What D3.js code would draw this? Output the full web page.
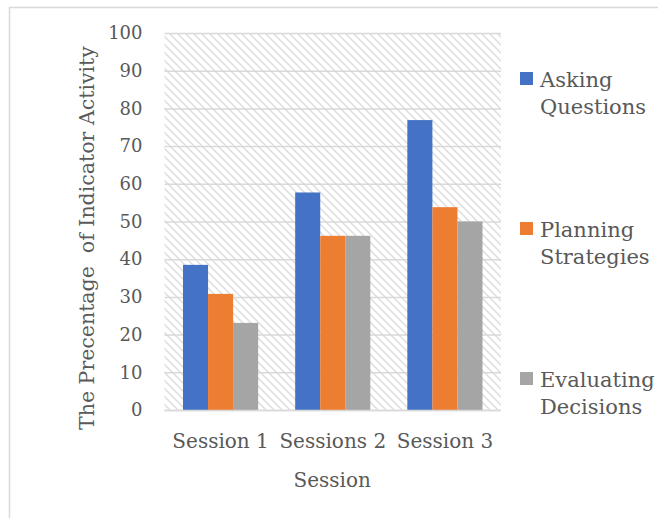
<!DOCTYPE html>
<html>
<head>
<meta charset="utf-8">
<script src="https://cdn.jsdelivr.net/npm/d3@7"></script>
<style>
  html, body { margin: 0; padding: 0; background: #fff; }
  svg { display: block; }
  text { font-family: "DejaVu Serif", "Liberation Serif", serif; fill: #595959; }
</style>
</head>
<body>
<svg id="chart" width="658" height="518"></svg>
<script>
// Chart data
const categories = ["Session 1", "Sessions 2", "Session 3"];
const seriesNames = ["Asking Questions", "Planning Strategies", "Evaluating Decisions"];
const askingQuestions = [38.5, 57.7, 76.9];
const planningStrategies = [30.8, 46.2, 53.8];
const evaluatingDecisions = [23.1, 46.2, 50.0];
const yTicks = [0, 10, 20, 30, 40, 50, 60, 70, 80, 90, 100];
const legendLines = [["Asking", "Questions"], ["Planning", "Strategies"], ["Evaluating", "Decisions"]];

const seriesValues = [askingQuestions, planningStrategies, evaluatingDecisions];
const colors = ["#4472C4", "#ED7D31", "#A5A5A5"];
const serif = "'DejaVu Serif', 'Liberation Serif', serif";

const svg = d3.select("#chart");

// outer chart frame
svg.append("rect")
  .attr("x", 9.5).attr("y", 7.5)
  .attr("width", 680).attr("height", 540)
  .attr("fill", "#fff")
  .attr("stroke", "#d9d9d9").attr("stroke-width", 1.5);

const plot = { left: 164.5, right: 501, top: 33, bottom: 410 };

// diagonal hatch fill for the plot area
const defs = svg.append("defs");
const pat = defs.append("pattern")
  .attr("id", "hatch")
  .attr("patternUnits", "userSpaceOnUse")
  .attr("width", 8).attr("height", 8);
pat.append("rect").attr("width", 8).attr("height", 8).attr("fill", "#fff");
pat.append("path")
  .attr("d", "M-2,-2 L10,10 M-2,6 L2,10 M6,-2 L10,2")
  .attr("stroke", "#dcdcdc").attr("stroke-width", 1.4);

svg.append("rect")
  .attr("x", plot.left).attr("y", plot.top)
  .attr("width", plot.right - plot.left).attr("height", plot.bottom - plot.top)
  .attr("fill", "url(#hatch)");

const x0 = d3.scaleBand()
  .domain(categories)
  .range([plot.left, plot.right])
  .paddingInner(0.33)
  .paddingOuter(0.165);

const x1 = d3.scaleBand()
  .domain(d3.range(seriesNames.length))
  .range([0, x0.bandwidth()]);

const y = d3.scaleLinear().domain([0, 100]).range([plot.bottom, plot.top]);

// gridlines
svg.append("g")
  .attr("transform", `translate(${plot.left},0)`)
  .call(d3.axisLeft(y).tickValues(yTicks).tickSize(-(plot.right - plot.left)).tickFormat(""))
  .call(g => g.select(".domain").remove())
  .call(g => g.selectAll(".tick line").attr("stroke", "#d9d9d9").attr("stroke-width", 1.5));

// bars
const groups = svg.append("g").selectAll("g")
  .data(categories)
  .join("g")
  .attr("transform", d => `translate(${x0(d)},0)`);

groups.selectAll("rect")
  .data((d, i) => seriesValues.map((vals, s) => ({ s, v: vals[i] })))
  .join("rect")
  .attr("x", d => x1(d.s))
  .attr("y", d => y(d.v))
  .attr("width", x1.bandwidth())
  .attr("height", d => y(0) - y(d.v))
  .attr("fill", d => colors[d.s]);

// y axis labels
svg.append("g")
  .attr("transform", `translate(${plot.left},0)`)
  .call(d3.axisLeft(y).tickValues(yTicks).tickSize(0).tickPadding(22))
  .call(g => g.select(".domain").remove())
  .call(g => g.selectAll("text")
    .style("font-family", serif)
    .style("font-size", "18px")
    .attr("fill", "#595959"));

// x axis
svg.append("g")
  .attr("transform", `translate(0,${plot.bottom})`)
  .call(d3.axisBottom(x0).tickSize(0).tickPadding(24))
  .call(g => g.select(".domain").attr("stroke", "#d9d9d9").attr("stroke-width", 1.5)
    .attr("d", `M${plot.left},0.5H${plot.right}`))
  .call(g => g.selectAll("text")
    .style("font-family", serif)
    .style("font-size", "20px")
    .attr("fill", "#595959"));

// axis titles
svg.append("text")
  .attr("x", (plot.left + plot.right) / 2 - 0.5)
  .attr("y", 487)
  .attr("text-anchor", "middle")
  .style("font-size", "20px")
  .text("Session");

svg.append("text")
  .attr("transform", "translate(94,238) rotate(-90)")
  .attr("text-anchor", "middle")
  .style("font-size", "20.5px")
  .style("white-space", "pre")
  .attr("xml:space", "preserve")
  .text("The Precentage  of Indicator Activity");

// legend
const legendY = [72, 222, 372];
const legend = svg.append("g").selectAll("g")
  .data(seriesNames)
  .join("g")
  .attr("transform", (d, i) => `translate(520,${legendY[i]})`);

legend.append("rect")
  .attr("width", 13).attr("height", 13)
  .attr("fill", (d, i) => colors[i]);

legend.append("text")
  .attr("x", 20)
  .attr("y", 15)
  .style("font-size", "21px")
  .each(function (d, i) {
    const t = d3.select(this);
    legendLines[i].forEach((line, k) => {
      t.append("tspan")
        .attr("x", 20)
        .attr("dy", k === 0 ? 0 : 27)
        .text(line);
    });
  });
</script>
</body>
</html>
